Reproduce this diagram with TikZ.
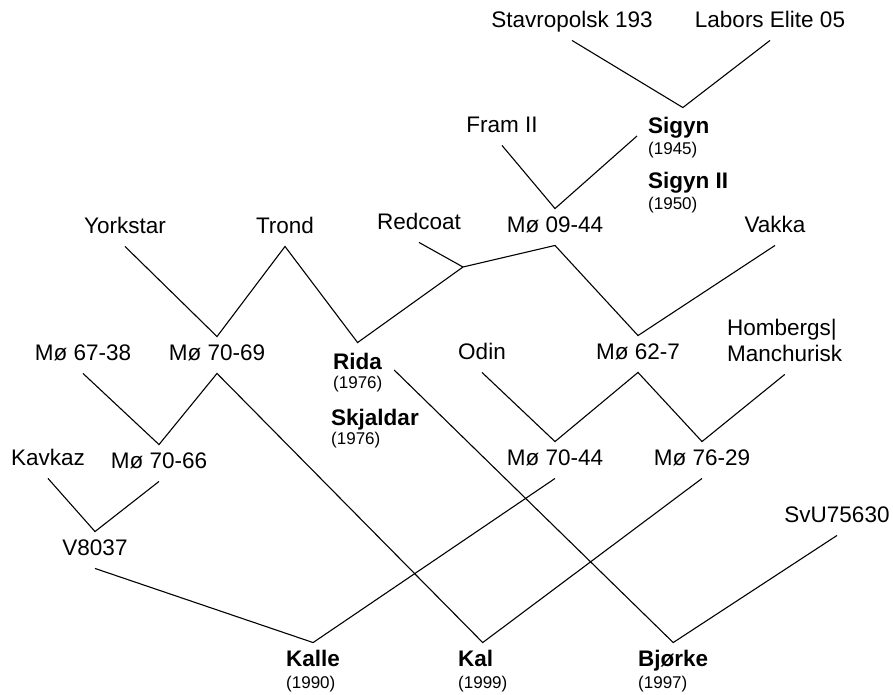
\documentclass[tikz,border=0pt]{standalone}
\usepackage{fontspec}
\setmainfont{Liberation Sans}
\usetikzlibrary{calc}
\begin{document}
\begin{tikzpicture}[x=1pt,y=-1pt,
  nm/.style={font=\fontsize{22.5}{26}\selectfont, text height=16.5pt, text depth=5pt, inner xsep=2pt, inner ysep=7.5pt},
  bn/.style={nm, font=\fontsize{22.5}{26}\selectfont\bfseries, anchor=west},
  yr/.style={font=\fontsize{17}{20}\selectfont, anchor=west, inner xsep=2pt, inner ysep=1pt},
  link/.style={line width=1.1pt, line join=miter}]
\useasboundingbox (0,0) rectangle (893,695);

% ancestors and intermediate lines
\node[nm] (stav)   at (572,22) {Stavropolsk 193};
\node[nm] (labors) at (770,22) {Labors Elite 05};
\node[bn] (sigyn)  at (646,128) {Sigyn};
\node[yr] (sigynY) at (646,150) {(1945)};
\node[bn] (sigyn2) at (646,183) {Sigyn II};
\node[yr] (sigyn2Y) at (646,205) {(1950)};
\node[nm] (fram)   at (502,127) {Fram II};
\node[nm] (mo0944) at (555,227) {Mø 09-44};
\node[nm] (vakka)  at (775,227) {Vakka};
\node[nm] (york)   at (125,228) {Yorkstar};
\node[nm] (trond)  at (285,228) {Trond};
\node[nm] (redcoat) at (419,224) {Redcoat};
\node[nm] (mo6738) at (83,355) {Mø 67-38};
\node[nm] (mo7069) at (217,355) {Mø 70-69};
\node[bn] (rida)   at (331,364) {Rida};
\node[yr] (ridaY)  at (331,384) {(1976)};
\node[bn] (skjal)  at (329,420) {Skjaldar};
\node[yr] (skjalY) at (329,440) {(1976)};
\node[nm] (odin)   at (482,354) {Odin};
\node[nm] (mo627)  at (638,354) {Mø 62-7};
\node[nm, anchor=west] (homb) at (725,330) {Hombergs|};
\node[nm, anchor=west] (manch) at (725,356) {Manchurisk};
\node[nm] (kavkaz) at (48,460) {Kavkaz};
\node[nm] (mo7066) at (159,463) {Mø 70-66};
\node[nm] (mo7044) at (555,460) {Mø 70-44};
\node[nm] (mo7629) at (702,460) {Mø 76-29};
\node[nm] (v8037)  at (95,550) {V8037};
\node[nm] (svu)    at (837,517) {SvU75630};

% cultivars at the bottom
\node[bn] (kalle)  at (284,661) {Kalle};
\node[yr] (kalleY) at (284,684) {(1990)};
\node[bn] (kal)    at (456,661) {Kal};
\node[yr] (kalY)   at (456,684) {(1999)};
\node[bn] (bjorke) at (636,661) {Bjørke};
\node[yr] (bjorkeY) at (636,684) {(1997)};

% junction points of the crossings
\coordinate (sigynV) at ($(sigyn.north)+(4,-2)$);
\coordinate (sigynL) at ($(sigyn.west)+(-9,8)$);
\coordinate (ridaV)  at ($(rida.north)+(0,-3)$);
\coordinate (ridaR)  at ($(rida.east)+(10,6)$);
\coordinate (rcJ)    at (463,267);
\coordinate (kalV)   at ($(kal.north)+(7,0)$);

% crossings
\draw[link] (stav.south) -- (sigynV) -- (labors.south);
\draw[link] (fram.south) -- (mo0944.north) -- (sigynL);
\draw[link] (york.south) -- (mo7069.north) -- (trond.south) -- (ridaV) -- (rcJ) -- (mo0944.south) -- (mo627.north) -- (vakka.south);
\draw[link] (redcoat.south) -- (rcJ);
\draw[link] (mo6738.south) -- (mo7066.north) -- (mo7069.south) -- (kalV) -- (mo7629.south);
\draw[link] (odin.south) -- (mo7044.north) -- (mo627.south) -- (mo7629.north) -- (manch.south);
\draw[link] (kavkaz.south) -- (v8037.north) -- (mo7066.south);
\draw[link] (v8037.south) -- (kalle.north) -- (mo7044.south);
\draw[link] (ridaR) -- (bjorke.north) -- (svu.south);
\end{tikzpicture}
\end{document}
